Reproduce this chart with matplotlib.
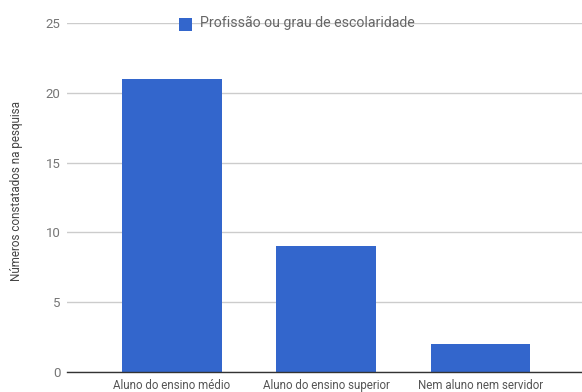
import matplotlib
matplotlib.use("Agg")
import matplotlib.pyplot as plt
from matplotlib.patches import Rectangle

plt.rcParams['font.family'] = ['Roboto', 'DejaVu Sans']

categories = ["Aluno do ensino médio", "Aluno do ensino superior", "Nem aluno nem servidor"]
values = [21, 9, 2]
yticks = [0, 5, 10, 15, 20, 25]
series_name = "Profissão ou grau de escolaridade"
ylabel = "Números constatados na pesquisa"

W, H = 582, 392
fig = plt.figure(figsize=(W/100, H/100), dpi=100)
ax = fig.add_axes([67/W, (H-372)/H, (W-67)/W, (372-23)/H])

x = list(range(len(categories)))
ax.bar(x, values, width=0.648, color="#3366cc", zorder=3)
ax.set_xlim(-0.681, 2.658)
ax.set_ylim(0, 25)
ax.set_yticks(yticks)
ax.set_yticklabels([str(v) for v in yticks], color="#757575", fontsize=9.5)
ax.set_xticks(x)
ax.set_xticklabels(categories, color="#555555", fontsize=8.3)
ax.tick_params(axis='both', length=0)
ax.tick_params(axis='y', pad=4.5)
ax.tick_params(axis='x', pad=5)
ax.grid(axis='y', color="#cccccc", linewidth=1, zorder=0)
for s in ["top", "right", "left"]:
    ax.spines[s].set_visible(False)
ax.spines["bottom"].set_color("#333333")
ax.spines["bottom"].set_linewidth(1)
ax.spines["bottom"].set_zorder(4)

fig.text(17/W, (H-191)/H, ylabel, color="#444444", fontsize=8.4,
         rotation=90, va="center", ha="center")

# legend
fig.patches.append(Rectangle((179/W, (H-31)/H), 13/W, 13/H, transform=fig.transFigure,
                             facecolor="#3366cc", edgecolor="none", zorder=5))
fig.text(200/W, (H-23)/H, series_name, color="#666666", fontsize=10.2, va="center", ha="left")

fig.savefig("out.png", dpi=100)
